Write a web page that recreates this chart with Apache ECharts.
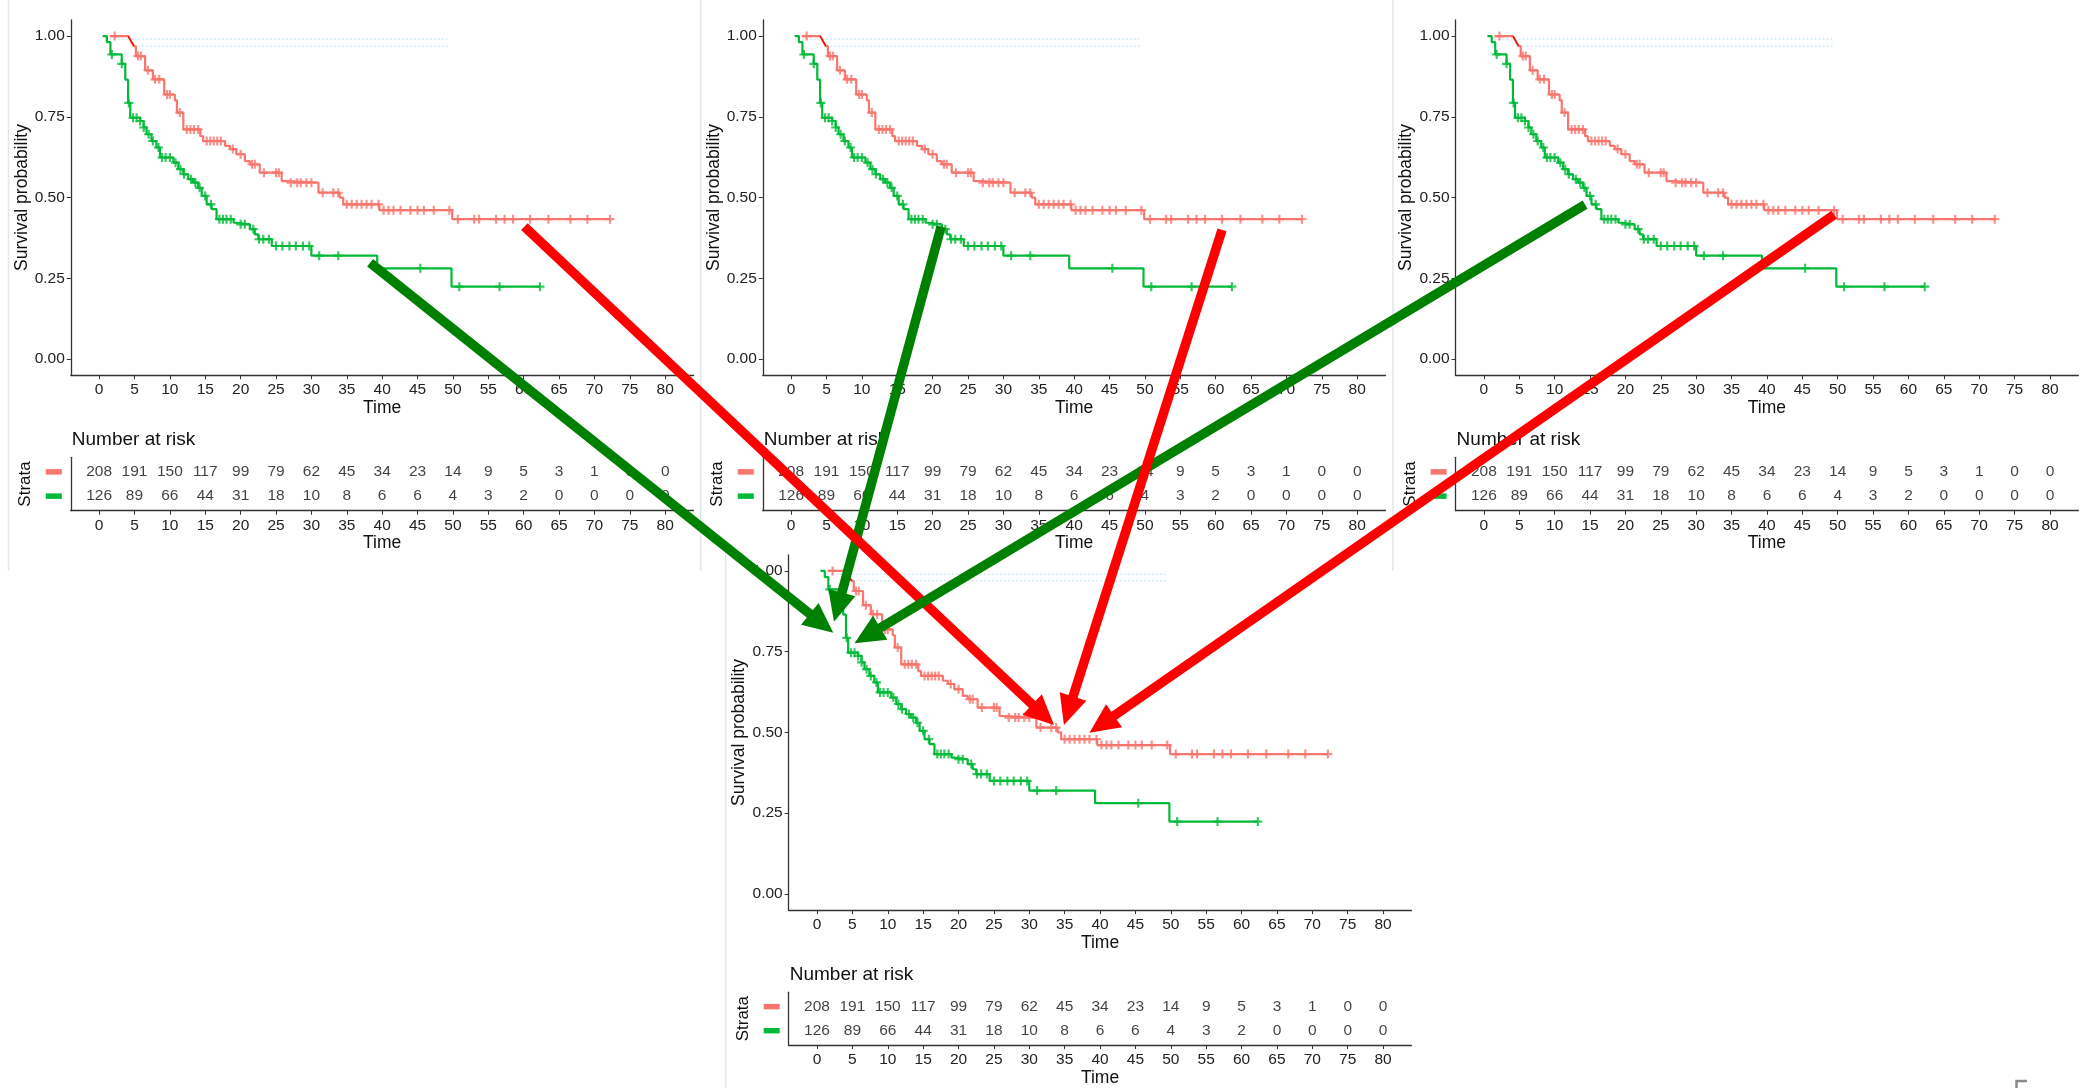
<!DOCTYPE html>
<html>
<head>
<meta charset="utf-8">
<script src="https://cdn.jsdelivr.net/npm/echarts@6/dist/echarts.min.js"></script>
<style>
  html, body { margin: 0; padding: 0; background: #ffffff; }
  #chart { width: 2085px; height: 1088px; }
</style>
</head>
<body>
<div id="chart"></div>
<script>
// ---- Kaplan-Meier estimates per stratum (event times and survival after each drop) ----
const timeTicks = [0, 5, 10, 15, 20, 25, 30, 35, 40, 45, 50, 55, 60, 65, 70, 75, 80];
const survTicks = [0, 0.25, 0.5, 0.75, 1];

const redTimes = [1.5, 4.9, 5.2, 6.5, 7.6, 9.2, 10.7, 11.0, 11.9, 14.3, 14.7, 17.8, 18.5, 19.4, 20.6, 21.3, 22.7, 25.8, 26.5, 31.0, 34.0, 34.5, 39.6, 49.9];
const redSurv  = [1.0, 0.969, 0.938, 0.894, 0.866, 0.819, 0.801, 0.763, 0.711, 0.690, 0.675, 0.660, 0.650, 0.634, 0.613, 0.603, 0.577, 0.551, 0.546, 0.515, 0.500, 0.479, 0.461, 0.433];
const redEnd = 72.2;
const redLeadStart = 4.1;

const greenTimes = [0.5, 1.1, 1.6, 3.2, 3.7, 4.1, 4.4, 5.8, 6.3, 6.7, 7.4, 8.1, 8.6, 10.5, 11.2, 11.9, 12.6, 13.3, 14.0, 14.5, 15.2, 15.9, 16.6, 19.0, 19.4, 21.3, 22.0, 22.5, 24.4, 30.0, 39.3, 49.8];
const greenSurv  = [1.0, 0.981, 0.943, 0.914, 0.865, 0.793, 0.747, 0.737, 0.717, 0.696, 0.675, 0.655, 0.624, 0.608, 0.588, 0.572, 0.557, 0.546, 0.530, 0.505, 0.479, 0.464, 0.433, 0.422, 0.417, 0.402, 0.386, 0.371, 0.350, 0.320, 0.281, 0.224];
const greenEnd = 62.3;

// censoring times
const redCensor = [2.2, 5.5, 5.9, 6.9, 7.9, 8.5, 9.6, 10.0, 11.4, 12.4, 12.9, 13.4, 14.0, 15.2, 15.7, 16.2, 16.7, 17.2, 18.9, 20.0, 21.6, 22.0, 23.3, 25.0, 25.4, 27.1, 28.0, 28.5, 29.3, 30.0, 31.6, 33.1, 33.8, 35.0, 35.7, 36.4, 37.1, 37.8, 38.5, 39.5, 40.2, 40.9, 41.6, 42.6, 44.0, 45.0, 45.9, 47.3, 49.5, 50.7, 53.0, 53.7, 56.1, 57.3, 58.5, 60.9, 63.5, 66.6, 69.0, 72.2];
const greenCensor = [1.8, 3.2, 4.2, 4.8, 5.3, 5.8, 6.3, 7.0, 7.6, 8.4, 8.9, 9.4, 10.0, 10.8, 11.5, 12.0, 13.0, 13.6, 14.2, 15.0, 15.8, 17.0, 17.5, 18.0, 18.6, 20.0, 20.6, 21.8, 22.6, 23.2, 24.0, 25.0, 25.9, 26.9, 27.8, 28.8, 29.7, 31.1, 33.8, 45.4, 50.9, 56.6, 62.3];

// number at risk at each time tick
const redAtRisk   = [208, 191, 150, 117, 99, 79, 62, 45, 34, 23, 14, 9, 5, 3, 1, 0, 0];
const greenAtRisk = [126, 89, 66, 44, 31, 18, 10, 8, 6, 6, 4, 3, 2, 0, 0, 0, 0];

// faint dotted rows near the top of each plot
const hazeFrom  = [1.5, 4.9];
const hazeTo    = [49.2, 49.4];
const hazeLevel = [0.99, 0.969];

// arrows: [panel, time, survival] at the tail and the head
const arrowColor = ['#008000', '#008000', '#ff0000', '#008000', '#ff0000', '#ff0000'];
const arrowFrom  = [[0, 38.3, 0.298], [1, 21.2, 0.41], [0, 60.1, 0.41], [2, 14.3, 0.478], [1, 60.9, 0.40], [2, 49.5, 0.447]];
const arrowTo    = [[3, 2.3, 0.809], [3, 2.4, 0.843], [3, 33.5, 0.523], [3, 5.3, 0.776], [3, 34.9, 0.523], [3, 38.5, 0.499]];

// ---- layout ----
const FONT = "'Liberation Sans', Arial, sans-serif";
const RED = '#F8766D', GREEN = '#00BA38';
const panels = [
  { left: 70.8,  top: 19.9 },
  { left: 762.8, top: 19.9 },
  { left: 1455.6, top: 19.9 },
  { left: 788.7, top: 554.8 }
];
const PW = 622.7, PH = 355.3;
const TABLE_DY = 437.4, TH = 53.4;

function stepPath(times, surv, end, slantFrom) {
  const pts = [];
  for (let i = 0; i < times.length; i++) {
    if (i > 0) pts.push([(i === 1 && slantFrom != null) ? slantFrom : times[i], surv[i - 1]]);
    pts.push([times[i], surv[i]]);
  }
  pts.push([end, surv[surv.length - 1]]);
  return pts;
}
function survAt(times, surv, t) {
  let s = surv[0];
  for (let i = 0; i < times.length; i++) if (times[i] <= t) s = surv[i];
  return s;
}

const plusPath = 'path://M3.8,0h2.4v3.8h3.8v2.4h-3.8v3.8h-2.4v-3.8h-3.8v-2.4h3.8z';
const axisLineStyle = { color: '#333', width: 1.3 };

const grids = [], xAxes = [], yAxes = [], series = [], titles = [];

panels.forEach((p, k) => {
  const gKM = 2 * k, gT = 2 * k + 1;
  grids.push({ left: p.left, top: p.top, width: PW, height: PH });
  grids.push({ left: p.left, top: p.top + TABLE_DY, width: PW, height: TH });

  const xBase = (gi) => ({
    gridIndex: gi, type: 'value', min: -4, max: 84,
    axisLine: { show: true, onZero: false, lineStyle: axisLineStyle },
    axisTick: { show: true, customValues: timeTicks, length: 4, lineStyle: { color: '#333' } },
    axisLabel: { customValues: timeTicks, fontSize: 15.5, color: '#222', margin: 7, fontFamily: FONT },
    splitLine: { show: false },
    name: 'Time', nameLocation: 'middle', nameGap: 23,
    nameTextStyle: { fontSize: 17.5, color: '#111', fontFamily: FONT }
  });
  xAxes.push(xBase(gKM));
  xAxes.push(xBase(gT));

  yAxes.push({
    gridIndex: gKM, type: 'value', min: -0.05, max: 1.05,
    axisLine: { show: true, onZero: false, lineStyle: axisLineStyle },
    axisTick: { show: true, customValues: survTicks, length: 4, lineStyle: { color: '#333' } },
    axisLabel: { customValues: survTicks, fontSize: 15.5, color: '#222', margin: 6, fontFamily: FONT,
                 formatter: (v) => v.toFixed(2) },
    splitLine: { show: false },
    name: 'Survival probability', nameLocation: 'middle', nameGap: 34, nameRotate: 90,
    nameTextStyle: { fontSize: 17.5, color: '#111', fontFamily: FONT }
  });
  yAxes.push({
    gridIndex: gT, type: 'value', min: 0.4, max: 2.6,
    axisLine: { show: true, onZero: false, lineStyle: axisLineStyle },
    axisTick: { show: false },
    axisLabel: {
      customValues: [1, 2], margin: 9,
      formatter: (v) => (v === 2 ? '{r|}' : '{g|}'),
      rich: {
        r: { backgroundColor: RED, width: 16, height: 5.5 },
        g: { backgroundColor: GREEN, width: 16, height: 5.5 }
      }
    },
    splitLine: { show: false },
    name: 'Strata', nameLocation: 'middle', nameGap: 37, nameRotate: 90,
    nameTextStyle: { fontSize: 17, color: '#111', fontFamily: FONT }
  });

  titles.push({
    text: 'Number at risk', left: p.left + 1, top: p.top + 410, padding: 0,
    textStyle: { fontSize: 19, fontWeight: 'normal', color: '#111', fontFamily: FONT }
  });

  // faint dotted rows
  hazeLevel.forEach((lv, i) => {
    series.push({
      type: 'line', xAxisIndex: gKM, yAxisIndex: gKM, silent: true, showSymbol: false,
      data: [[hazeFrom[i], lv], [hazeTo[i], lv]],
      lineStyle: { color: '#d6ebf8', width: 1.6, type: [2, 2] }, z: 1
    });
  });

  // survival curves
  series.push({
    type: 'line', xAxisIndex: gKM, yAxisIndex: gKM, silent: true, showSymbol: false,
    data: stepPath(redTimes, redSurv, redEnd, redLeadStart),
    lineStyle: { color: RED, width: 2.2 }, z: 3
  });
  series.push({
    type: 'line', xAxisIndex: gKM, yAxisIndex: gKM, silent: true, showSymbol: false,
    data: [[redLeadStart, redSurv[0]], [redTimes[1], redSurv[1]]],
    lineStyle: { color: '#ff0000', width: 1.4 }, z: 4
  });
  series.push({
    type: 'line', xAxisIndex: gKM, yAxisIndex: gKM, silent: true, showSymbol: false,
    data: stepPath(greenTimes, greenSurv, greenEnd, null),
    lineStyle: { color: GREEN, width: 2.2 }, z: 3
  });
  // censor marks
  series.push({
    type: 'scatter', xAxisIndex: gKM, yAxisIndex: gKM, silent: true,
    symbol: plusPath, symbolSize: 9,
    data: redCensor.map((t) => [t, survAt(redTimes, redSurv, t)]),
    itemStyle: { color: RED }, z: 3
  });
  series.push({
    type: 'scatter', xAxisIndex: gKM, yAxisIndex: gKM, silent: true,
    symbol: plusPath, symbolSize: 9,
    data: greenCensor.map((t) => [t, survAt(greenTimes, greenSurv, t)]),
    itemStyle: { color: GREEN }, z: 3
  });

  // risk table
  [[redAtRisk, 2], [greenAtRisk, 1]].forEach(([vals, row]) => {
    series.push({
      type: 'scatter', xAxisIndex: gT, yAxisIndex: gT, silent: true,
      symbolSize: 1, itemStyle: { color: 'rgba(0,0,0,0)' },
      data: timeTicks.map((t, i) => [t, row, vals[i]]),
      label: { show: true, position: 'inside', formatter: (pp) => String(pp.value[2]),
               fontSize: 15.5, color: '#111', fontFamily: FONT }
    });
  });
});

const chart = echarts.init(document.getElementById('chart'), null, { renderer: 'canvas' });
chart.setOption({
  animation: false,
  backgroundColor: '#ffffff',
  title: titles,
  grid: grids,
  xAxis: xAxes,
  yAxis: yAxes,
  series: series
});

// ---- overlay: panel edges and arrows, positioned through the panels' own axes ----
const edge = '#dfe6ee';
const graphics = [
  { type: 'line', shape: { x1: 8.5, y1: 0, x2: 8.5, y2: 571 }, style: { stroke: edge, lineWidth: 1.5 }, silent: true },
  { type: 'line', shape: { x1: 700.7, y1: 0, x2: 700.7, y2: 571 }, style: { stroke: edge, lineWidth: 1.5 }, silent: true },
  { type: 'line', shape: { x1: 1393, y1: 0, x2: 1393, y2: 571 }, style: { stroke: edge, lineWidth: 1.5 }, silent: true },
  { type: 'line', shape: { x1: 725.7, y1: 553, x2: 725.7, y2: 1088 }, style: { stroke: edge, lineWidth: 1.5 }, silent: true },
  { type: 'polyline', shape: { points: [[2016.5, 1088], [2016.5, 1081], [2027, 1081]] }, style: { stroke: '#8a8a8a', lineWidth: 2.5, fill: null }, silent: true }
];

const HEAD_LEN = 30, HEAD_HALF = 14, SHAFT = 9.5;
arrowFrom.forEach((f, i) => {
  const to = arrowTo[i];
  const a = chart.convertToPixel({ gridIndex: 2 * f[0] }, [f[1], f[2]]);
  const b = chart.convertToPixel({ gridIndex: 2 * to[0] }, [to[1], to[2]]);
  const dx = b[0] - a[0], dy = b[1] - a[1];
  const len = Math.hypot(dx, dy);
  const ux = dx / len, uy = dy / len;
  const bx = b[0] - ux * HEAD_LEN, by = b[1] - uy * HEAD_LEN;
  graphics.push({
    type: 'line', z: 100 + i * 2, silent: true,
    shape: { x1: a[0], y1: a[1], x2: b[0] - ux * (HEAD_LEN * 0.7), y2: b[1] - uy * (HEAD_LEN * 0.7) },
    style: { stroke: arrowColor[i], lineWidth: SHAFT, lineCap: 'butt' }
  });
  graphics.push({
    type: 'polygon', z: 101 + i * 2, silent: true,
    shape: { points: [[b[0], b[1]], [bx - uy * HEAD_HALF, by + ux * HEAD_HALF], [bx + uy * HEAD_HALF, by - ux * HEAD_HALF]] },
    style: { fill: arrowColor[i] }
  });
});
chart.setOption({ graphic: graphics });
</script>
</body>
</html>
